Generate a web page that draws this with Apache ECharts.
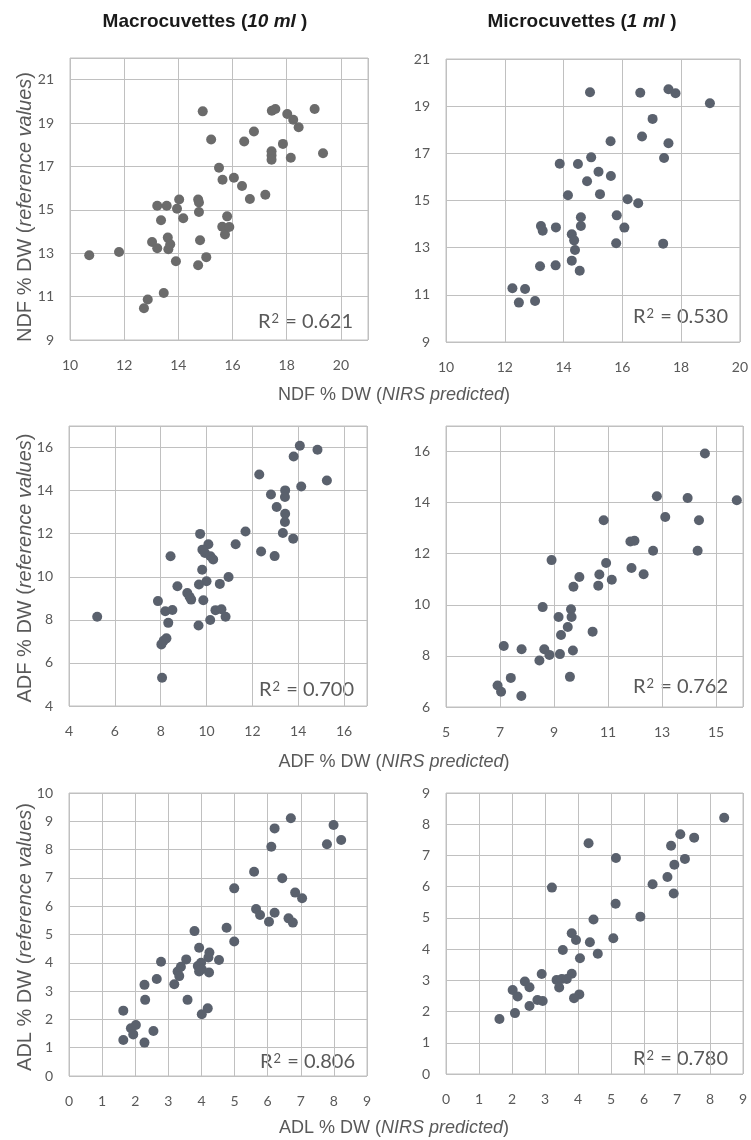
<!DOCTYPE html>
<html>
<head>
<meta charset="utf-8">
<title>NIRS predicted vs reference values</title>
<script src="https://cdn.jsdelivr.net/npm/echarts/dist/echarts.min.js"></script>
<style>
  html, body { margin: 0; padding: 0; background: #fff; }
  #chart { width: 751px; height: 1140px; }
</style>
</head>
<body>
<div id="chart"></div>
<script>
// each point: [NIRS predicted, reference value], % DW
var ndfMacro = [
  [10.71, 12.91], [11.81, 13.06], [12.73, 10.46], [12.87, 10.87], [13.03, 13.52], [13.22, 13.23],
  [13.22, 15.19], [13.36, 14.52], [13.46, 11.17], [13.57, 15.19], [13.61, 13.72], [13.63, 13.18],
  [13.70, 13.41], [13.91, 12.63], [13.95, 15.05], [14.03, 15.48], [14.18, 14.61], [14.73, 15.48],
  [14.76, 15.34], [14.76, 14.90], [14.80, 13.60], [14.73, 12.45], [14.90, 19.54], [15.03, 12.82],
  [15.21, 18.24], [15.50, 16.94], [15.63, 16.39], [15.62, 14.22], [15.72, 13.86], [15.80, 14.70],
  [15.88, 14.21], [16.05, 16.48], [16.35, 16.10], [16.43, 18.15], [16.64, 15.50], [16.79, 18.61],
  [17.21, 15.70], [17.45, 19.57], [17.58, 19.65], [17.44, 17.70], [17.44, 17.51], [17.44, 17.31],
  [17.86, 18.04], [18.02, 19.42], [18.15, 17.40], [18.24, 19.15], [18.44, 18.81], [19.03, 19.65],
  [19.34, 17.61]
];
var ndfMicro = [
  [14.90, 19.59], [16.61, 19.57], [17.57, 19.72], [17.81, 19.55], [18.98, 19.12], [17.03, 18.46],
  [16.67, 17.71], [17.57, 17.43], [17.42, 16.80], [15.60, 17.51], [14.94, 16.83], [13.87, 16.56],
  [14.49, 16.55], [15.19, 16.22], [14.80, 15.82], [15.61, 16.04], [14.15, 15.22], [15.24, 15.27],
  [16.18, 15.05], [16.54, 14.88], [14.59, 14.29], [15.81, 14.37], [13.23, 13.92], [13.29, 13.72],
  [13.74, 13.86], [14.59, 13.92], [16.07, 13.85], [14.28, 13.57], [14.36, 13.31], [14.39, 12.90],
  [15.79, 13.19], [17.39, 13.17], [13.20, 12.21], [13.73, 12.25], [14.28, 12.45], [14.55, 12.02],
  [12.26, 11.28], [12.69, 11.25], [12.48, 10.67], [13.03, 10.74]
];
var adfMacro = [
  [14.07, 16.08], [14.84, 15.90], [13.80, 15.58], [12.30, 14.75], [15.25, 14.47], [14.13, 14.19],
  [12.81, 13.82], [13.43, 14.01], [13.42, 13.70], [13.06, 13.24], [13.43, 12.93], [13.42, 12.54],
  [13.33, 12.03], [13.78, 11.77], [11.70, 12.10], [9.72, 11.99], [10.08, 11.51], [11.27, 11.51],
  [9.82, 11.26], [9.93, 11.10], [10.17, 10.95], [10.29, 10.80], [12.38, 11.17], [12.97, 10.96],
  [8.43, 10.95], [9.81, 10.33], [10.96, 9.99], [10.00, 9.79], [9.67, 9.64], [10.58, 9.67],
  [8.73, 9.56], [9.16, 9.25], [9.26, 9.07], [9.33, 8.94], [9.86, 8.91], [7.88, 8.87],
  [8.20, 8.40], [8.51, 8.46], [10.39, 8.45], [10.65, 8.49], [10.83, 8.14], [10.16, 7.99],
  [8.33, 7.86], [9.65, 7.74], [5.23, 8.14], [8.25, 7.14], [8.13, 7.03], [8.03, 6.86],
  [8.06, 5.31]
];
var adfMicro = [
  [14.59, 15.92], [12.81, 14.25], [13.95, 14.18], [15.77, 14.09], [10.84, 13.31], [13.12, 13.44],
  [14.37, 13.31], [11.83, 12.48], [11.98, 12.51], [12.67, 12.12], [14.32, 12.12], [8.91, 11.75],
  [10.93, 11.64], [11.87, 11.44], [12.32, 11.20], [10.68, 11.19], [9.94, 11.09], [11.14, 10.98],
  [9.72, 10.71], [10.64, 10.75], [8.58, 9.91], [9.63, 9.83], [9.17, 9.52], [9.65, 9.52],
  [9.51, 9.13], [10.43, 8.95], [9.26, 8.82], [7.14, 8.39], [7.80, 8.26], [8.64, 8.26],
  [8.83, 8.04], [9.22, 8.07], [9.70, 8.21], [8.46, 7.82], [9.59, 7.18], [7.40, 7.14],
  [6.91, 6.84], [7.04, 6.60], [7.79, 6.43]
];
var adlMacro = [
  [6.70, 9.11], [6.21, 8.75], [6.11, 8.10], [7.99, 8.87], [8.22, 8.34], [7.79, 8.19],
  [5.59, 7.22], [6.44, 6.99], [4.99, 6.63], [6.83, 6.48], [7.04, 6.28], [5.65, 5.90],
  [5.77, 5.69], [6.21, 5.77], [6.04, 5.45], [6.63, 5.57], [6.76, 5.42], [4.76, 5.24],
  [4.99, 4.75], [3.79, 5.12], [3.93, 4.53], [4.24, 4.36], [4.21, 4.19], [4.53, 4.10],
  [2.78, 4.04], [3.54, 4.12], [3.99, 4.00], [3.89, 3.89], [4.01, 3.77], [3.93, 3.69],
  [4.23, 3.66], [3.38, 3.86], [3.28, 3.69], [3.33, 3.53], [2.65, 3.43], [2.28, 3.22],
  [3.18, 3.24], [2.30, 2.69], [3.58, 2.69], [4.19, 2.39], [4.01, 2.18], [1.64, 2.31],
  [1.87, 1.69], [2.02, 1.80], [1.94, 1.47], [2.55, 1.59], [1.64, 1.27], [2.28, 1.18]
];
var adlMicro = [
  [8.43, 8.21], [7.10, 7.68], [7.52, 7.57], [4.32, 7.39], [6.82, 7.31], [5.15, 6.92],
  [7.24, 6.89], [6.92, 6.70], [6.71, 6.31], [6.26, 6.08], [3.21, 5.97], [6.90, 5.78],
  [5.14, 5.45], [5.89, 5.04], [4.47, 4.95], [5.07, 4.35], [3.81, 4.51], [3.94, 4.29],
  [4.36, 4.22], [3.54, 3.97], [4.60, 3.85], [4.06, 3.71], [2.90, 3.20], [3.81, 3.21],
  [3.35, 3.01], [3.51, 3.04], [3.66, 3.04], [2.39, 2.96], [2.53, 2.78], [3.43, 2.77],
  [2.02, 2.69], [2.17, 2.48], [4.04, 2.55], [3.88, 2.43], [2.77, 2.37], [2.93, 2.34],
  [2.53, 2.18], [2.09, 1.95], [1.62, 1.76]
];

var columnTitles = ['Macrocuvettes', 'Microcuvettes'];
var columnVolumes = ['10 ml', '1 ml'];
var fractions = ['NDF', 'ADF', 'ADL'];
var r2Values = ['0.621', '0.530', '0.700', '0.762', '0.806', '0.780'];

// [min, max, interval] for each panel, row by row
var xRanges = [[10, 21, 2], [10, 20, 2], [4, 17, 2], [5, 16, 2], [0, 9, 1], [0, 9, 1]];
var yRanges = [[9, 22, 2], [9, 21, 2], [4, 17, 2], [6, 17, 2], [0, 10, 1], [0, 9, 1]];

var panels = [ndfMacro, ndfMicro, adfMacro, adfMicro, adlMacro, adlMicro];

var gridColor = '#c0c0c0';
var textColor = '#595959';

var grids = [
  {left: 70, top: 58, width: 298, height: 282},
  {left: 446, top: 59, width: 297, height: 283},
  {left: 69, top: 426, width: 298, height: 280},
  {left: 446, top: 426, width: 297, height: 281},
  {left: 69, top: 793, width: 298, height: 283},
  {left: 446, top: 793, width: 297, height: 281}
];

function valueAxis(i, r, isX) {
  return {
    type: 'value',
    gridIndex: i,
    min: r[0],
    max: r[1],
    interval: r[2],
    axisLine: {show: false},
    axisTick: {show: false},
    splitLine: {lineStyle: {color: gridColor, width: 1}},
    axisLabel: {
      color: textColor,
      fontFamily: 'Lato',
      fontSize: 14,
      margin: isX ? 18 : 16,
      // only the regular ticks get a label, not the extra max tick
      formatter: function (v) {
        return (Math.abs((v - r[0]) % r[2]) < 1e-9) ? String(v) : '';
      }
    }
  };
}

var graphics = [];

// column titles
columnTitles.forEach(function (t, c) {
  graphics.push({
    type: 'text',
    x: c === 0 ? 205 : 582,
    y: 22,
    style: {
      text: '{b|' + t + ' (}{bi|' + columnVolumes[c] + '}{b| )}',
      align: 'center',
      verticalAlign: 'middle',
      rich: {
        b: {fontFamily: 'Liberation Sans', fontWeight: 'bold', fontSize: 19, fill: '#1a1a1a'},
        bi: {fontFamily: 'Liberation Sans', fontWeight: 'bold', fontStyle: 'italic', fontSize: 19, fill: '#1a1a1a'}
      }
    }
  });
});

// shared x titles under each row, y titles on the left column
var xTitleY = [395, 762, 1128];
var yTitleY = [207, 568, 937];
fractions.forEach(function (f, k) {
  graphics.push({
    type: 'text',
    x: 394,
    y: xTitleY[k],
    style: {
      text: '{n|' + f + ' % DW (}{i|NIRS predicted}{n|)}',
      align: 'center',
      verticalAlign: 'middle',
      rich: {
        n: {fontFamily: 'Liberation Sans', fontSize: 18, fill: textColor},
        i: {fontFamily: 'Liberation Sans', fontSize: 18, fontStyle: 'italic', fill: textColor}
      }
    }
  });
  graphics.push({
    type: 'text',
    x: 25,
    y: yTitleY[k],
    rotation: Math.PI / 2,
    style: {
      text: '{n|' + f + ' % DW (}{i|reference values}{n|)}',
      align: 'center',
      verticalAlign: 'middle',
      rich: {
        n: {fontFamily: 'Liberation Sans', fontSize: 20, fill: textColor},
        i: {fontFamily: 'Liberation Sans', fontSize: 20, fontStyle: 'italic', fill: textColor}
      }
    }
  });
});

// R² annotations, bottom right of each plot
var r2Pos = [[353, 322], [728, 317], [354, 690], [728, 687], [355, 1062], [728, 1059]];
r2Values.forEach(function (r, i) {
  graphics.push({
    type: 'text',
    x: r2Pos[i][0],
    y: r2Pos[i][1],
    style: {
      text: '{n|R}{s|2}{n| = ' + r + '}',
      align: 'right',
      verticalAlign: 'middle',
      rich: {
        n: {fontFamily: 'Lato', fontSize: 20, fill: textColor},
        s: {fontFamily: 'Lato', fontSize: 13, fill: textColor, verticalAlign: 'top', padding: [0, 1, 0, 1]}
      }
    }
  });
});

var chart = echarts.init(document.getElementById('chart'));

chart.setOption({
  backgroundColor: '#fff',
  animation: false,
  grid: grids.map(function (g) {
    return Object.assign({show: true, borderColor: gridColor, borderWidth: 1, backgroundColor: '#fff'}, g);
  }),
  xAxis: xRanges.map(function (r, i) { return valueAxis(i, r, true); }),
  yAxis: yRanges.map(function (r, i) { return valueAxis(i, r, false); }),
  series: panels.map(function (p, i) {
    return {
      type: 'scatter',
      xAxisIndex: i,
      yAxisIndex: i,
      data: p,
      symbolSize: 10,
      silent: true,
      itemStyle: {color: i === 0 ? '#6b6b6b' : '#5a616d', opacity: 1}
    };
  }),
  graphic: graphics
});
</script>
</body>
</html>
